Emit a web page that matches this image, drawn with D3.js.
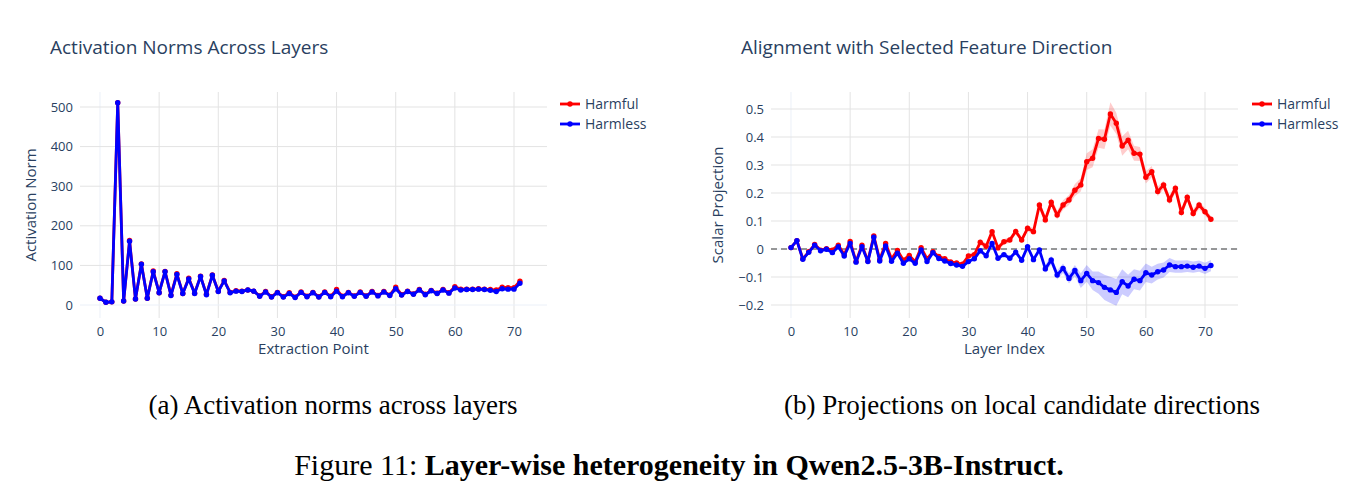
<!DOCTYPE html>
<html>
<head>
<meta charset="utf-8">
<script src="https://cdn.jsdelivr.net/npm/d3@7"></script>
<style>
  body { margin: 0; background: #fff; }
  svg { display: block; }
</style>
</head>
<body>
<div id="chart"></div>
<script>
// layer indices 0..71
const layers = d3.range(72);

// (a) activation norms
const harmfulNorm = [17,7,8,511,10,163,15,104,17,86,31,85,25,79,29,68,30,73,27,76,35,62,32,36,35,38,35,23,34,21,32,21,31,20,33,22,32,21,33,22,39,22,32,23,33,23,34,24,34,25,45,26,35,28,39,27,37,30,39,31,46,40,40,40,41,40,39,38,45,44,44,60];
const harmlessNorm = [17,7,8,511,10,161,15,103,17,84,31,84,24,77,29,66,29,72,26,75,34,61,31,35,34,38,35,22,33,20,31,20,29,19,32,21,31,20,32,21,35,21,31,22,32,22,33,23,33,24,41,25,34,27,38,26,36,29,38,30,43,38,39,39,40,39,37,34,41,40,40,55];

// (b) scalar projections (mean) and band half-widths
const harmfulProj = [0.005,0.03,-0.035,-0.01,0.016,-0.004,0.001,-0.004,0.014,-0.02,0.027,-0.045,0.014,-0.043,0.047,-0.038,0.02,-0.035,-0.005,-0.04,-0.023,-0.045,0.005,-0.035,-0.01,-0.027,-0.035,-0.046,-0.05,-0.054,-0.025,-0.02,0.024,0.01,0.062,0.004,0.026,0.032,0.063,0.032,0.074,0.062,0.157,0.104,0.167,0.121,0.157,0.175,0.21,0.229,0.312,0.324,0.395,0.392,0.482,0.449,0.368,0.389,0.342,0.339,0.256,0.276,0.205,0.229,0.175,0.217,0.13,0.185,0.127,0.157,0.133,0.106];
const harmlessProj = [0.005,0.03,-0.037,-0.012,0.014,-0.006,-0.001,-0.013,0.008,-0.025,0.02,-0.047,0.008,-0.045,0.042,-0.043,0.011,-0.044,-0.015,-0.051,-0.035,-0.051,-0.003,-0.045,-0.013,-0.034,-0.043,-0.052,-0.057,-0.062,-0.045,-0.035,-0.006,-0.024,0.02,-0.033,-0.02,-0.033,-0.011,-0.04,0.008,-0.038,-0.003,-0.071,-0.039,-0.093,-0.069,-0.105,-0.077,-0.113,-0.087,-0.113,-0.12,-0.137,-0.146,-0.155,-0.117,-0.132,-0.108,-0.113,-0.085,-0.093,-0.081,-0.075,-0.057,-0.063,-0.063,-0.061,-0.065,-0.061,-0.069,-0.059];
const harmfulErr = [0.005,0.005,0.005,0.005,0.005,0.005,0.005,0.005,0.005,0.005,0.005,0.005,0.005,0.005,0.005,0.005,0.005,0.005,0.005,0.005,0.005,0.005,0.005,0.005,0.005,0.005,0.005,0.005,0.005,0.006,0.008,0.009,0.01,0.01,0.01,0.01,0.01,0.01,0.01,0.01,0.011,0.012,0.015,0.015,0.016,0.016,0.017,0.018,0.022,0.024,0.03,0.032,0.033,0.035,0.042,0.038,0.035,0.033,0.027,0.025,0.022,0.02,0.017,0.016,0.016,0.016,0.015,0.015,0.015,0.014,0.013,0.012];
const harmlessErr = [0.006,0.006,0.006,0.006,0.006,0.006,0.006,0.006,0.006,0.006,0.006,0.006,0.006,0.006,0.006,0.006,0.006,0.006,0.006,0.006,0.006,0.006,0.006,0.006,0.006,0.006,0.006,0.006,0.006,0.006,0.007,0.007,0.007,0.007,0.008,0.008,0.008,0.008,0.008,0.009,0.009,0.01,0.01,0.014,0.015,0.016,0.017,0.018,0.02,0.026,0.03,0.033,0.04,0.045,0.047,0.048,0.045,0.04,0.036,0.035,0.033,0.03,0.028,0.027,0.025,0.022,0.022,0.021,0.02,0.02,0.02,0.02];

const xTicks = [0, 10, 20, 30, 40, 50, 60, 70];
const normTicks = [0, 100, 200, 300, 400, 500];
const projTicks = [-0.2, -0.1, 0, 0.1, 0.2, 0.3, 0.4, 0.5];
const seriesNames = ["Harmful", "Harmless"];
const seriesColors = ["#ff0000", "#0000ff"];

const width = 1365, height = 500;
const font = "'Open Sans', 'Liberation Sans', Arial, sans-serif";
const textColor = "#2a3f5f";
const gridColor = "#e3e3e3";

const svg = d3.select("#chart").append("svg")
  .attr("width", width)
  .attr("height", height)
  .attr("viewBox", [0, 0, width, height]);

function drawPanel(opts) {
  const { left, right, top, bottom, xDomain, yDomain, yTicks, yFormat, series, bands, title, xTitle, yTitle, zeroDash, legendX } = opts;

  const x = d3.scaleLinear().domain(xDomain).range([left, right]);
  const y = d3.scaleLinear().domain(yDomain).range([bottom, top]);
  const g = svg.append("g");

  // grid
  g.append("g").selectAll("line").data(xTicks).join("line")
    .attr("x1", (d) => x(d)).attr("x2", (d) => x(d))
    .attr("y1", top).attr("y2", bottom)
    .attr("stroke", (d) => (d === 0 ? "#ebf0f8" : gridColor)).attr("stroke-width", 1);
  g.append("g").selectAll("line").data(yTicks).join("line")
    .attr("x1", left).attr("x2", right)
    .attr("y1", (d) => y(d)).attr("y2", (d) => y(d))
    .attr("stroke", (d) => (d === 0 ? "#ebf0f8" : gridColor)).attr("stroke-width", 1);

  // axes (text only, plotly style)
  const xAxis = g.append("g")
    .attr("transform", `translate(0, ${bottom})`)
    .call(d3.axisBottom(x).tickValues(xTicks).tickSize(0).tickPadding(9));
  const yAxis = g.append("g")
    .attr("transform", `translate(${left}, 0)`)
    .call(d3.axisLeft(y).tickValues(yTicks).tickFormat(yFormat).tickSize(0).tickPadding(7));
  [xAxis, yAxis].forEach((a) => {
    a.select(".domain").remove();
    a.selectAll("text").attr("fill", textColor).style("font-family", font).style("font-size", "13px");
  });

  if (zeroDash) {
    g.append("line")
      .attr("x1", left).attr("x2", right)
      .attr("y1", y(0)).attr("y2", y(0))
      .attr("stroke", "#777").attr("stroke-width", 1.3)
      .attr("stroke-dasharray", "6,4");
  }

  // shaded bands
  if (bands) {
    bands.forEach((b, k) => {
      const area = d3.area()
        .x((d, i) => x(layers[i]))
        .y0((d, i) => y(series[k][i] - d))
        .y1((d, i) => y(series[k][i] + d));
      g.append("path")
        .datum(b)
        .attr("d", area)
        .attr("fill", seriesColors[k])
        .attr("fill-opacity", 0.2);
    });
  }

  // lines + markers
  series.forEach((s, k) => {
    const line = d3.line().x((d, i) => x(layers[i])).y((d) => y(d));
    g.append("path")
      .datum(s)
      .attr("d", line)
      .attr("fill", "none")
      .attr("stroke", seriesColors[k])
      .attr("stroke-width", 2.8)
      .attr("stroke-linejoin", "round");
    g.append("g").selectAll("circle").data(s).join("circle")
      .attr("cx", (d, i) => x(layers[i]))
      .attr("cy", (d) => y(d))
      .attr("r", 2.7)
      .attr("fill", seriesColors[k]);
  });

  // titles
  g.append("text")
    .attr("x", title.x).attr("y", 54)
    .attr("fill", textColor)
    .style("font-family", font).style("font-size", "19px")
    .text(title.text);
  g.append("text")
    .attr("x", (left + right) / 2).attr("y", 354)
    .attr("text-anchor", "middle")
    .attr("fill", textColor)
    .style("font-family", font).style("font-size", "15px")
    .text(xTitle);
  g.append("text")
    .attr("transform", `translate(${opts.yTitleX}, ${(top + bottom) / 2}) rotate(-90)`)
    .attr("text-anchor", "middle")
    .attr("fill", textColor)
    .style("font-family", font).style("font-size", "15px")
    .text(yTitle);

  // legend
  const lg = g.append("g").attr("transform", `translate(${legendX}, 104)`);
  seriesNames.forEach((name, k) => {
    const row = lg.append("g").attr("transform", `translate(0, ${k * 20})`);
    row.append("line").attr("x1", 0).attr("x2", 20).attr("y1", 0).attr("y2", 0)
      .attr("stroke", seriesColors[k]).attr("stroke-width", 2.8);
    row.append("circle").attr("cx", 10).attr("cy", 0).attr("r", 2.7).attr("fill", seriesColors[k]);
    row.append("text").attr("x", 25).attr("y", 0).attr("dy", "0.35em")
      .attr("fill", textColor)
      .style("font-family", font).style("font-size", "14px")
      .text(name);
  });
}

// pixel scale: 5.914 px per layer, 0 at x=100 / x=791
drawPanel({
  left: 80, right: 547, top: 92, bottom: 318,
  xDomain: [-3.38, 75.58], yDomain: [-32.8, 537.9],
  yTicks: normTicks, yFormat: d3.format("d"),
  series: [harmfulNorm, harmlessNorm],
  title: { text: "Activation Norms Across Layers", x: 50 },
  xTitle: "Extraction Point", yTitle: "Activation Norm", yTitleX: 36,
  legendX: 560
});

drawPanel({
  left: 771, right: 1238, top: 92, bottom: 318,
  xDomain: [-3.38, 75.58], yDomain: [-0.2464, 0.5607],
  yTicks: projTicks, yFormat: (d) => (d === 0 ? "0" : d3.format(".1f")(d)),
  series: [harmfulProj, harmlessProj],
  bands: [harmfulErr, harmlessErr],
  title: { text: "Alignment with Selected Feature Direction", x: 741 },
  xTitle: "Layer Index", yTitle: "Scalar Projection", yTitleX: 723,
  zeroDash: true, legendX: 1252
});

// captions
const serif = "'Liberation Serif', 'Times New Roman', serif";
svg.append("text").attr("x", 333).attr("y", 414).attr("text-anchor", "middle")
  .style("font-family", serif).style("font-size", "27px").attr("fill", "#000")
  .text("(a) Activation norms across layers");
svg.append("text").attr("x", 1022).attr("y", 414).attr("text-anchor", "middle")
  .style("font-family", serif).style("font-size", "27px").attr("fill", "#000")
  .text("(b) Projections on local candidate directions");
const fig = svg.append("text").attr("x", 679).attr("y", 475).attr("text-anchor", "middle")
  .style("font-family", serif).style("font-size", "30px").attr("fill", "#000");
fig.append("tspan").text("Figure 11: ");
fig.append("tspan").attr("font-weight", "bold").text("Layer-wise heterogeneity in Qwen2.5-3B-Instruct.");
</script>
</body>
</html>
